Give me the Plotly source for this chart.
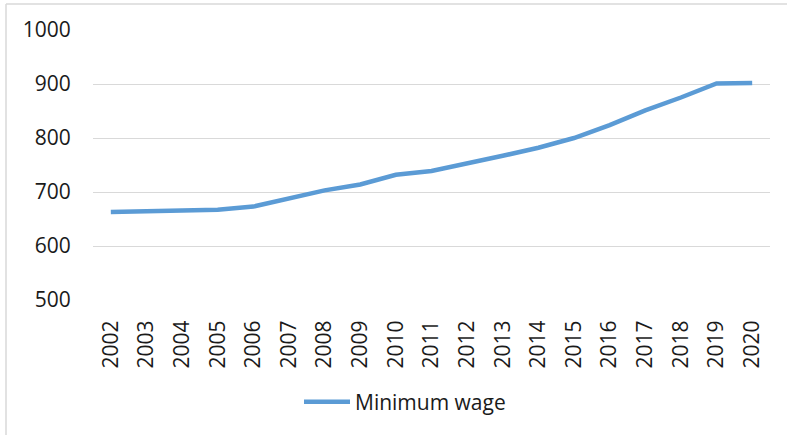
import plotly.graph_objects as go

years = [str(y) for y in range(2002, 2021)]
min_wage = [663, 664, 665, 667, 673, 688, 703, 714, 732, 739, 752, 767, 782, 800, 824, 851, 875, 901, 902]
y_ticks = [500, 600, 700, 800, 900, 1000]
series_name = "Minimum wage"

W, H = 787, 435
L, R, T, B = 93, 17, 30, 135
pw, ph = W - L - R, H - T - B

def px(x):
    return (x - L) / pw

def py(y):
    return (H - B - y) / ph

font = "Open Sans, Noto Sans, sans-serif"
fs = 21

fig = go.Figure()
fig.add_trace(go.Scatter(
    x=years, y=min_wage, mode="lines", name=series_name,
    line=dict(color="#5B9BD5", width=4.5),
    showlegend=True,
))

fig.update_layout(
    width=W, height=H,
    margin=dict(l=L, r=R, t=T, b=B, pad=0),
    paper_bgcolor="white", plot_bgcolor="white",
    font=dict(family=font, size=fs, color="#1a1a1a"),
    showlegend=True,
    legend=dict(orientation="h", x=px(405), xanchor="center", y=py(402), yanchor="middle",
                font=dict(size=fs, family=font, color="#1a1a1a"), itemwidth=46,
                bgcolor="rgba(0,0,0,0)"),
    xaxis=dict(type="category", range=[-0.5, len(years) - 0.5], tickangle=-90, showgrid=False,
               zeroline=False, showline=False, ticks="outside", ticklen=11,
               tickcolor="rgba(0,0,0,0)",
               tickfont=dict(size=fs, family=font, color="#1a1a1a")),
    yaxis=dict(range=[500, 1000], tickvals=y_ticks, showgrid=True, gridcolor="#D9D9D9",
               gridwidth=1.3, zeroline=False, showline=False, ticks="outside", ticklen=17,
               tickcolor="rgba(0,0,0,0)",
               tickfont=dict(size=fs, family=font, color="#1a1a1a")),
    shapes=[
        dict(type="line", xref="paper", yref="paper", x0=px(6), x1=px(787), y0=py(4), y1=py(4),
             line=dict(color="#D9D9D9", width=1.5)),
        dict(type="line", xref="paper", yref="paper", x0=px(6), x1=px(6), y0=py(4), y1=py(435),
             line=dict(color="#D9D9D9", width=1.5)),
    ],
)

fig.write_html("out.html")
